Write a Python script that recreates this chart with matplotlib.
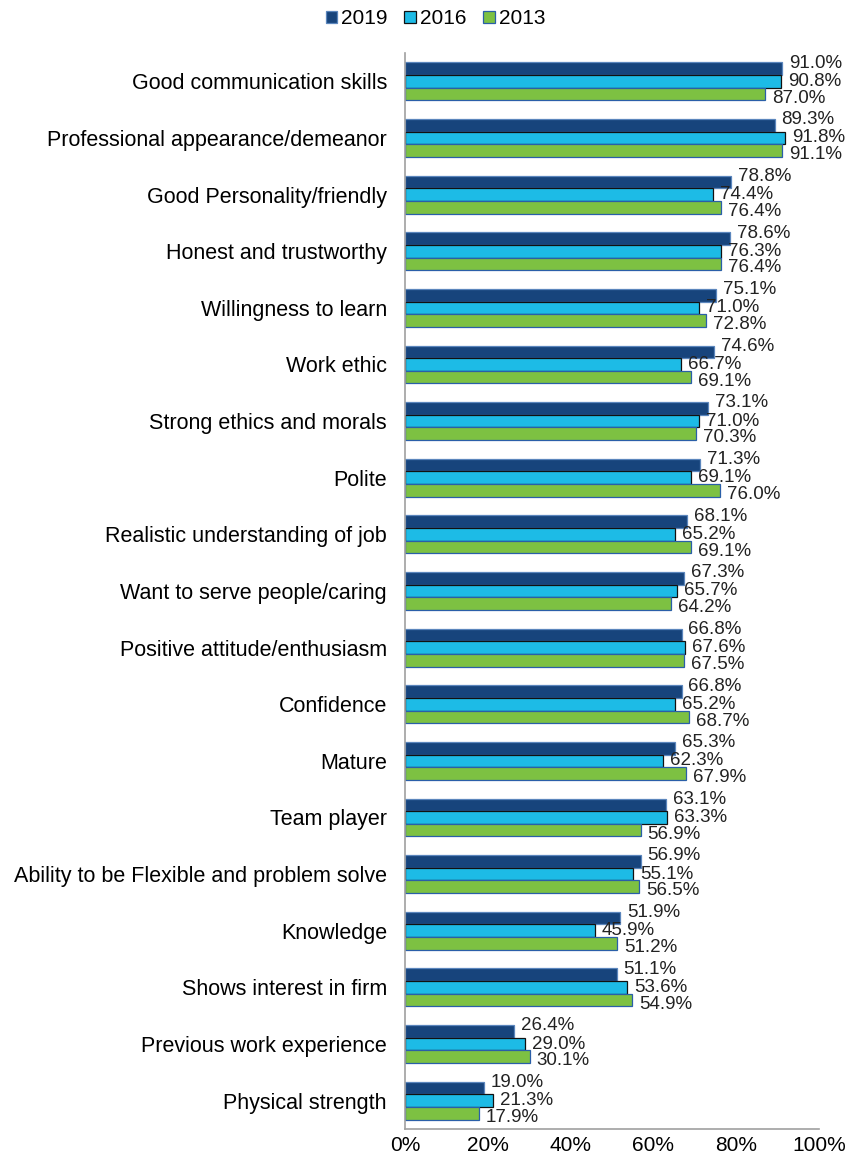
import numpy as np
import matplotlib.pyplot as plt

plt.rcParams['font.family'] = ['Liberation Sans', 'DejaVu Sans']

# ----------------------------------------------
# Data
# ----------------------------------------------

categories = [
    "Good communication skills",
    "Professional appearance/demeanor",
    "Good Personality/friendly",
    "Honest and trustworthy",
    "Willingness to learn",
    "Work ethic",
    "Strong ethics and morals",
    "Polite",
    "Realistic understanding of job",
    "Want to serve people/caring",
    "Positive attitude/enthusiasm",
    "Confidence",
    "Mature",
    "Team player",
    "Ability to be Flexible and problem solve",
    "Knowledge",
    "Shows interest in firm",
    "Previous work experience",
    "Physical strength",
]

y2019 = [91.0, 89.3, 78.8, 78.6, 75.1, 74.6, 73.1, 71.3, 68.1, 67.3,
         66.8, 66.8, 65.3, 63.1, 56.9, 51.9, 51.1, 26.4, 19.0]
y2016 = [90.8, 91.8, 74.4, 76.3, 71.0, 66.7, 71.0, 69.1, 65.2, 65.7,
         67.6, 65.2, 62.3, 63.3, 55.1, 45.9, 53.6, 29.0, 21.3]
y2013 = [87.0, 91.1, 76.4, 76.4, 72.8, 69.1, 70.3, 76.0, 69.1, 64.2,
         67.5, 68.7, 67.9, 56.9, 56.5, 51.2, 54.9, 30.1, 17.9]

series = [
    ("2019", y2019, "#17447C", "#5B86BD", 4),
    ("2016", y2016, "#1DBBE6", "#111111", 0),
    ("2013", y2013, "#7DC142", "#2A5FA8", -3),
]

# ----------------------------------------------
# Figure
# ----------------------------------------------

fig = plt.figure(figsize=(8.57, 11.67), dpi=100)
ax = fig.add_axes([0.4726, 0.0326, 0.483, 0.9220])

pos = np.arange(len(categories))
bar_h = 0.223

for i, (name, vals, face, edge, dy) in enumerate(series):
    ys = pos + (i - 1) * bar_h
    ax.barh(ys, vals, height=bar_h, color=face, edgecolor=edge,
            linewidth=0.9, label=name)
    for y, v in zip(ys, vals):
        ax.annotate(f"{v:.1f}%", xy=(v, y), xytext=(5, dy),
                    textcoords="offset points", va="center", ha="left",
                    fontsize=13.5, color="#222222")

ax.set_xlim(0, 100)
ax.set_ylim(len(categories) - 0.5, -0.5)
ax.set_xticks(range(0, 101, 20))
ax.set_xticklabels([f"{t}%" for t in range(0, 101, 20)], fontsize=15)
ax.set_yticks(pos)
ax.set_yticklabels(categories, fontsize=15.5)
ax.tick_params(axis="y", length=0, pad=13)
ax.tick_params(axis="x", length=0, pad=5)

for s in ["top", "right"]:
    ax.spines[s].set_visible(False)
for s in ["left", "bottom"]:
    ax.spines[s].set_color("#A0A0A0")
    ax.spines[s].set_linewidth(1.2)

fig.legend(loc="upper center", bbox_to_anchor=(0.508, 1.008), ncol=3,
           frameon=False, fontsize=15, handlelength=0.55, handleheight=0.55,
           handletextpad=0.2, columnspacing=0.8)

fig.savefig("out.png", dpi=100)
